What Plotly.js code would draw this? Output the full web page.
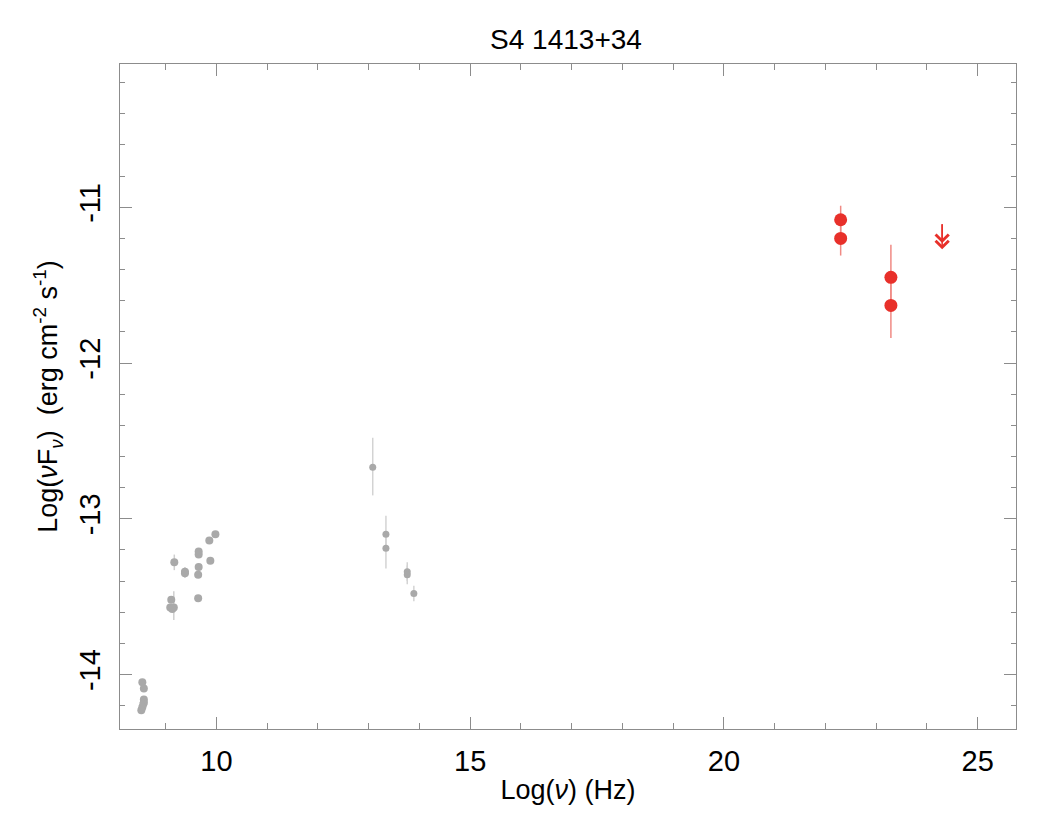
<!DOCTYPE html>
<html>
<head>
<meta charset="utf-8">
<script src="https://cdn.plot.ly/plotly-3.0.1.min.js"></script>
<style>
  body { margin: 0; background: #fff; }
  #sed { width: 1054px; height: 826px; }
</style>
</head>
<body>
<div id="sed"></div>
<script>
// radio points (grey)
const radioX = [8.54, 8.57, 8.57, 8.57, 8.56, 8.54, 8.52, 9.11, 9.09, 9.16, 9.13, 9.17, 9.38, 9.38, 9.65, 9.65, 9.65, 9.64, 9.64, 9.88, 9.86, 9.98];
const radioY = [-14.05, -14.09, -14.16, -14.18, -14.19, -14.21, -14.23, -13.52, -13.57, -13.57, -13.58, -13.28, -13.34, -13.35, -13.21, -13.23, -13.31, -13.36, -13.51, -13.27, -13.14, -13.10];
const radioErrUp = [0.02, 0.02, 0.02, 0.02, 0.02, 0.02, 0.02, 0.02, 0.02, 0.105, 0.02, 0.05, 0.03, 0.03, 0.02, 0.02, 0.02, 0.02, 0.02, 0.02, 0.02, 0.02];
const radioErrDn = [0.02, 0.02, 0.02, 0.02, 0.02, 0.02, 0.02, 0.02, 0.02, 0.08, 0.02, 0.05, 0.03, 0.03, 0.02, 0.02, 0.02, 0.02, 0.02, 0.02, 0.02, 0.02];

// IR / optical points (grey)
const optX = [13.08, 13.34, 13.34, 13.76, 13.76, 13.89];
const optY = [-12.67, -13.10, -13.19, -13.34, -13.36, -13.48];
const optErrUp = [0.19, 0.12, 0.09, 0.06, 0.06, 0.05];
const optErrDn = [0.18, 0.09, 0.13, 0.06, 0.06, 0.05];

// gamma-ray points (red)
const gamX = [22.30, 22.30, 23.29, 23.29];
const gamY = [-11.08, -11.20, -11.45, -11.63];
const gamErrUp = [0.09, 0.10, 0.21, 0.18];
const gamErrDn = [0.10, 0.11, 0.18, 0.21];

// upper limit
const ulX = [24.30];
const ulY = [-11.10];
const ulLen = 0.17;

// tick labels
const yTickVals = [-14, -13, -12, -11];
const yTickText = ['-14', '-13', '-12', '-11'];

const grey = '#a9a9a9';
const red = '#e8302a';

const traces = [
    {
        x: radioX, y: radioY, type: 'scatter', mode: 'markers',
        marker: { color: grey, size: 8 },
        error_y: { type: 'data', symmetric: false, array: radioErrUp, arrayminus: radioErrDn, color: '#cfcfcf', thickness: 1.5, width: 0 }
    },
    {
        x: optX, y: optY, type: 'scatter', mode: 'markers',
        marker: { color: grey, size: 7 },
        error_y: { type: 'data', symmetric: false, array: optErrUp, arrayminus: optErrDn, color: '#d3d3d3', thickness: 1.5, width: 0 }
    },
    {
        x: gamX, y: gamY, type: 'scatter', mode: 'markers',
        marker: { color: red, size: 13 },
        error_y: { type: 'data', symmetric: false, array: gamErrUp, arrayminus: gamErrDn, color: '#f08a84', thickness: 1.5, width: 0 }
    }
];

// upper limit arrow: shaft plus a doubled chevron head
const annotations = [];
ulX.forEach((x, i) => {
    annotations.push({
        x: x, y: ulY[i] - ulLen, xref: 'x', yref: 'y',
        ax: x, ay: ulY[i], axref: 'x', ayref: 'y',
        showarrow: true, arrowhead: 4, arrowsize: 1.7, arrowwidth: 1.5, arrowcolor: red, text: ''
    });
    annotations.push({
        x: x, y: ulY[i] - ulLen + 0.04, xref: 'x', yref: 'y',
        ax: x, ay: ulY[i], axref: 'x', ayref: 'y',
        showarrow: true, arrowhead: 4, arrowsize: 1.7, arrowwidth: 1.5, arrowcolor: red, text: ''
    });
});

const tickFont = { family: '"Liberation Sans", Arial, sans-serif', size: 29, color: '#000' };
const titleFont = { family: '"Liberation Sans", Arial, sans-serif', size: 27, color: '#000' };

const layout = {
    width: 1054, height: 826,
    margin: { l: 120, r: 38, t: 64, b: 97 },
    showlegend: false,
    paper_bgcolor: '#fff', plot_bgcolor: '#fff',
    title: { text: 'S4 1413+34', font: { family: '"Liberation Sans", Arial, sans-serif', size: 28, color: '#000' }, x: 0.537, xanchor: 'center', y: 0.952, yanchor: 'middle' },
    xaxis: {
        range: [8.1, 25.755], showgrid: false, zeroline: false,
        showline: true, linecolor: '#8c8c8c', linewidth: 1, mirror: 'ticks',
        ticks: 'inside', ticklen: 12, tickcolor: '#8c8c8c', tickwidth: 1,
        tick0: 0, dtick: 5, tickfont: tickFont, ticklabelstandoff: 6,
        minor: { dtick: 1, ticks: 'inside', ticklen: 6, tickcolor: '#8c8c8c' },
        title: { text: 'Log(<i>ν</i>) (Hz)', font: titleFont, standoff: 4 }
    },
    yaxis: {
        range: [-14.35, -10.08], showgrid: false, zeroline: false,
        showline: true, linecolor: '#8c8c8c', linewidth: 1, mirror: 'ticks',
        ticks: 'inside', ticklen: 12, tickcolor: '#8c8c8c', tickwidth: 1,
        tickmode: 'array', tickvals: yTickVals, ticktext: yTickText,
        tickfont: tickFont, tickangle: -90, ticklabelstandoff: 7,
        minor: { tickmode: 'linear', tick0: 0, dtick: 0.2, ticks: 'inside', ticklen: 5, tickcolor: '#8c8c8c' },
        title: { text: 'Log(<i>ν</i>F<sub><i>ν</i></sub>)  (erg cm<sup>-2</sup> s<sup>-1</sup>)', font: titleFont, standoff: 8 }
    },
    annotations: annotations
};

Plotly.newPlot('sed', traces, layout, { displayModeBar: false });
</script>
</body>
</html>
